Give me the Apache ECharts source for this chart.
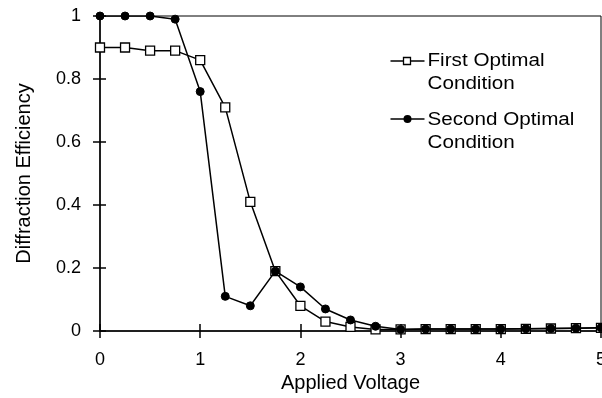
<!DOCTYPE html>
<html>
<head>
<meta charset="utf-8">
<script src="https://cdn.jsdelivr.net/npm/echarts@6/dist/echarts.min.js"></script>
<style>
  html, body { margin: 0; padding: 0; background: #fff; }
  #chart { width: 602px; height: 398px; }
</style>
</head>
<body>
<div id="chart"></div>
<script>
// applied voltage steps, 0 to 5 in 0.25
const voltage = [0, 0.25, 0.5, 0.75, 1, 1.25, 1.5, 1.75, 2, 2.25, 2.5, 2.75, 3, 3.25, 3.5, 3.75, 4, 4.25, 4.5, 4.75, 5];
const firstOptimal = [0.90, 0.90, 0.89, 0.89, 0.86, 0.71, 0.41, 0.19, 0.08, 0.03, 0.013, 0.005, 0.005, 0.006, 0.006, 0.006, 0.006, 0.007, 0.008, 0.009, 0.01];
const secondOptimal = [1.0, 1.0, 1.0, 0.99, 0.76, 0.11, 0.08, 0.19, 0.14, 0.07, 0.035, 0.015, 0.005, 0.006, 0.006, 0.006, 0.006, 0.007, 0.008, 0.009, 0.01];
const yTicks = [0, 0.2, 0.4, 0.6, 0.8, 1];
const xTicks = [0, 1, 2, 3, 4, 5];

const font = "'Liberation Sans', Arial, sans-serif";
const chart = echarts.init(document.getElementById("chart"));

const pairs = (ys) => voltage.map((x, i) => [x, ys[i]]);
const tickStyle = { color: "#000", width: 1.5 };

chart.setOption({
  animation: false,
  grid: {
    left: 100, right: 1, top: 16, bottom: 67,
    outerBoundsMode: "none",
    show: true, borderColor: "#000", borderWidth: 1
  },
  xAxis: [
    {
      type: "value", min: 0, max: 5, interval: 1,
      name: "Applied Voltage", nameLocation: "middle", nameGap: 42,
      nameTextStyle: { color: "#000", fontSize: 20, fontFamily: font },
      axisLine: { show: true, lineStyle: { color: "#000", width: 1.5 } },
      axisTick: { show: true, length: 7, lineStyle: tickStyle },
      axisLabel: {
        color: "#000", fontSize: 18, fontFamily: font, margin: 20,
        formatter: (v) => xTicks.includes(v) ? String(v) : ""
      },
      splitLine: { show: false }
    },
    {
      type: "value", min: 0, max: 5, interval: 1, position: "bottom",
      axisLine: { show: false },
      axisTick: { show: true, inside: true, length: 7, lineStyle: tickStyle },
      axisLabel: { show: false },
      splitLine: { show: false }
    }
  ],
  yAxis: [
    {
      type: "value", min: 0, max: 1, interval: 0.2,
      name: "Diffraction Efficiency", nameLocation: "middle", nameGap: 66,
      nameTextStyle: { color: "#000", fontSize: 20, fontFamily: font },
      axisLine: { show: true, lineStyle: { color: "#000", width: 1.5 } },
      axisTick: { show: true, length: 7, lineStyle: tickStyle },
      axisLabel: {
        color: "#000", fontSize: 18, fontFamily: font, margin: 19,
        formatter: (v) => {
          const t = yTicks.find((y) => Math.abs(y - v) < 1e-9);
          return t === undefined ? "" : String(t);
        }
      },
      splitLine: { show: false }
    },
    {
      type: "value", min: 0, max: 1, interval: 0.2, position: "left",
      axisLine: { show: false },
      axisTick: { show: true, inside: true, length: 6, lineStyle: tickStyle },
      axisLabel: { show: false },
      splitLine: { show: false }
    }
  ],
  series: [
    {
      name: "First Optimal Condition",
      type: "line",
      data: pairs(firstOptimal),
      symbol: "rect",
      symbolSize: 9,
      lineStyle: { color: "#000", width: 1.5 },
      itemStyle: { color: "#fff", borderColor: "#000", borderWidth: 1.3 },
      z: 3
    },
    {
      name: "Second Optimal Condition",
      type: "line",
      data: pairs(secondOptimal),
      symbol: "circle",
      symbolSize: 8,
      lineStyle: { color: "#000", width: 1.5 },
      itemStyle: { color: "#000", borderColor: "#000", borderWidth: 1 },
      z: 4
    }
  ],
  graphic: [
    {
      type: "group", left: 388, top: 50,
      children: [
        { type: "line", shape: { x1: 0, y1: 11, x2: 34, y2: 11 }, style: { stroke: "#000", lineWidth: 1.5 } },
        { type: "rect", shape: { x: 13, y: 7.5, width: 7, height: 7 }, style: { fill: "#fff", stroke: "#000", lineWidth: 1.3 } },
        { type: "text", x: 37, y: 0, scaleX: 1.18, style: { text: "First Optimal\nCondition", fill: "#000", font: "17.5px " + font, lineHeight: 23 } },
        { type: "line", shape: { x1: 0, y1: 69, x2: 34, y2: 69 }, style: { stroke: "#000", lineWidth: 1.5 } },
        { type: "circle", shape: { cx: 17, cy: 69, r: 4 }, style: { fill: "#000" } },
        { type: "text", x: 37, y: 59, scaleX: 1.18, style: { text: "Second Optimal\nCondition", fill: "#000", font: "17.5px " + font, lineHeight: 23 } }
      ]
    }
  ]
});

window.addEventListener("resize", () => chart.resize());
</script>
</body>
</html>
